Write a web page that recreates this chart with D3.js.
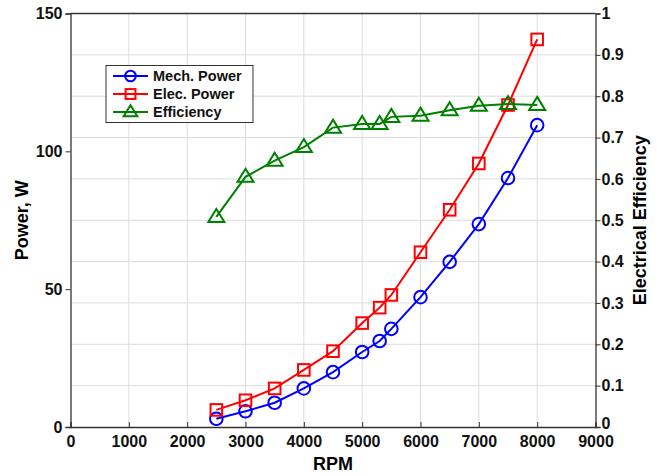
<!DOCTYPE html>
<html><head><meta charset="utf-8">
<script src="https://cdn.jsdelivr.net/npm/d3@7/dist/d3.min.js"></script>
<style>body{margin:0;background:#fff;} svg{display:block;} text{font-family:"Liberation Sans",Arial,sans-serif;font-weight:bold;}</style>
</head><body><div id="chart"></div>
<script>
const rpm = [2500,3000,3500,4000,4500,5000,5300,5500,6000,6500,7000,7500,8000];
const mechPower = [3.0,5.7,8.8,14.0,19.9,27.2,31.2,35.6,47.1,59.9,73.6,90.3,109.5];
const elecPower = [6.2,9.7,14.0,20.7,27.5,37.7,43.3,47.9,63.4,78.8,95.6,116.8,140.6];
const efficiency = [0.508,0.605,0.644,0.677,0.724,0.733,0.733,0.750,0.753,0.766,0.777,0.781,0.779];
const xTicks = [0,1000,2000,3000,4000,5000,6000,7000,8000,9000];
const yLeftTicks = [0,50,100,150];
const yRightTicks = [0,0.1,0.2,0.3,0.4,0.5,0.6,0.7,0.8,0.9,1];
const legendLabels = ["Mech. Power","Elec. Power","Efficiency"];

const W=662,H=476;
const L=70.5,R=595.5,T=13.5,B=427;
const svg=d3.select("#chart").append("svg").attr("width",W).attr("height",H);
const x=d3.scaleLinear().domain([0,9000]).range([L,R]);
const yL=d3.scaleLinear().domain([0,150]).range([B,T]);
const yR=d3.scaleLinear().domain([0,1]).range([B,T]);

// grid
svg.append("g").selectAll("line").data(xTicks.slice(1,-1)).join("line")
  .attr("x1",d=>x(d)).attr("x2",d=>x(d)).attr("y1",T).attr("y2",B)
  .attr("stroke","#dcdcdc").attr("stroke-width",1);
svg.append("g").selectAll("line").data(yRightTicks.slice(1,-1)).join("line")
  .attr("x1",L).attr("x2",R).attr("y1",d=>yR(d)).attr("y2",d=>yR(d))
  .attr("stroke","#dcdcdc").attr("stroke-width",1);

// axes
const fs="16px";
const gx=svg.append("g").attr("transform",`translate(0,${B})`)
  .call(d3.axisBottom(x).tickValues(xTicks).tickFormat(d3.format("d")).tickSize(-5).tickPadding(9));
const gl=svg.append("g").attr("transform",`translate(${L},0)`)
  .call(d3.axisLeft(yL).tickValues(yLeftTicks).tickSize(5).tickPadding(3));
const gr=svg.append("g").attr("transform",`translate(${R},0)`)
  .call(d3.axisRight(yR).tickValues(yRightTicks).tickFormat(d=>d===0?"0":d===1?"1":d3.format(".1f")(d)).tickSize(5).tickPadding(1));
svg.append("line").attr("x1",L).attr("x2",R).attr("y1",T).attr("y2",T).attr("stroke","#333").attr("stroke-width",1.3);
[gx,gl,gr].forEach(g=>{
  g.selectAll("path").attr("stroke","#333").attr("stroke-width",1.3);
  g.selectAll("line").attr("stroke","#333");
  g.selectAll("text").attr("font-size",fs).attr("fill","#111").style("font-family","'Liberation Sans',Arial,sans-serif").style("font-weight","bold");
});
// nudge right-axis "0" up slightly so it clears the "9000" label
gr.selectAll(".tick").filter(d=>d===0).select("text").attr("dy","0.1em");

// titles
svg.append("text").attr("x",(L+R)/2).attr("y",470).attr("text-anchor","middle").attr("font-size","18px").text("RPM");
svg.append("text").attr("transform",`translate(28,${(T+B)/2}) rotate(-90)`).attr("text-anchor","middle").attr("font-size","18px").text("Power, W");
svg.append("text").attr("transform",`translate(646,${(T+B)/2}) rotate(-90)`).attr("text-anchor","middle").attr("font-size","18px").text("Electrical Efficiency");

const series=[
  {vals:mechPower,y:yL,color:"#0000ff",mk:"circle"},
  {vals:elecPower,y:yL,color:"#ff0000",mk:"square"},
  {vals:efficiency,y:yR,color:"#008000",mk:"triangle"}
];
function marker(g,type,color,cx,cy,s){
  s=s||1;
  if(type==="circle") g.append("circle").attr("cx",cx).attr("cy",cy).attr("r",6.3*s).attr("fill","none").attr("stroke",color).attr("stroke-width",2);
  else if(type==="square") g.append("rect").attr("x",cx-5.8*s).attr("y",cy-5.8*s).attr("width",11.6*s).attr("height",11.6*s).attr("fill","none").attr("stroke",color).attr("stroke-width",2);
  else g.append("path").attr("d",`M${cx},${cy-8*s}L${cx+8*s},${cy+5*s}L${cx-8*s},${cy+5*s}Z`).attr("fill","none").attr("stroke",color).attr("stroke-width",2);
}
series.forEach(s=>{
  const g=svg.append("g");
  g.append("path").datum(s.vals).attr("fill","none").attr("stroke",s.color).attr("stroke-width",2)
    .attr("d",d3.line().x((d,i)=>x(rpm[i])).y(d=>s.y(d)));
  s.vals.forEach((v,i)=>marker(g,s.mk,s.color,x(rpm[i]),s.y(v)));
});

// legend
const lg=svg.append("g");
lg.append("rect").attr("x",106).attr("y",65.5).attr("width",147).attr("height",57).attr("fill","#fff").attr("stroke","#333").attr("stroke-width",1);
legendLabels.forEach((lab,i)=>{
  const yy=76+i*18;
  lg.append("line").attr("x1",113).attr("x2",148).attr("y1",yy).attr("y2",yy).attr("stroke",series[i].color).attr("stroke-width",2);
  marker(lg,series[i].mk,series[i].color,130.5,yy,0.85);
  lg.append("text").attr("x",153).attr("y",yy+5).attr("font-size","14.5px").attr("fill","#111").text(lab);
});
</script></body></html>
